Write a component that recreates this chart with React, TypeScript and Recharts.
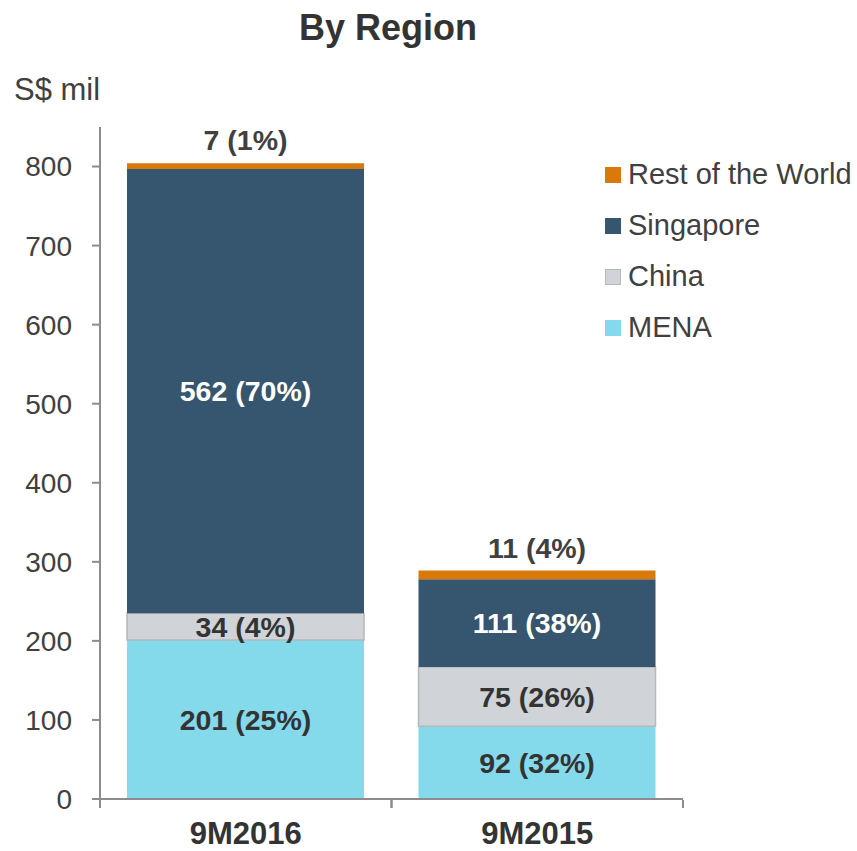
import React from "react";
import { BarChart, Bar, XAxis, YAxis, LabelList } from "recharts";

const categories = ["9M2016", "9M2015"];
const mena = [201, 92];
const china = [34, 75];
const singapore = [562, 111];
const restOfWorld = [7, 11];
const menaPct = ["25%", "32%"];
const chinaPct = ["4%", "26%"];
const singaporePct = ["70%", "38%"];
const restPct = ["1%", "4%"];
const yTicks = [0, 100, 200, 300, 400, 500, 600, 700, 800];

const data = categories.map((c, i) => ({
  name: c,
  MENA: mena[i],
  China: china[i],
  Singapore: singapore[i],
  "Rest of the World": restOfWorld[i],
}));

const FONT = "'Liberation Sans', Arial, sans-serif";
const AXIS = "#8c8c8c";
const TEXT = "#404040";

const COLORS = {
  MENA: "#84DAEA",
  China: "#D0D3D8",
  Singapore: "#36556E",
  RoW: "#D9790A",
};

const makeInsideLabel = (pcts: string[], fill: string) => (props: any) => {
  const { x, y, width, height, value, index } = props;
  return (
    <text
      x={Number(x) + Number(width) / 2}
      y={Number(y) + Number(height) / 2}
      textAnchor="middle"
      dominantBaseline="central"
      fill={fill}
      fontFamily={FONT}
      fontWeight="bold"
      fontSize={28.5}
    >
      {`${value} (${pcts[index]})`}
    </text>
  );
};

const makeTopLabel = (pcts: string[]) => (props: any) => {
  const { x, y, width, value, index } = props;
  return (
    <text
      x={Number(x) + Number(width) / 2}
      y={Number(y) - 13}
      textAnchor="middle"
      fill={TEXT}
      fontFamily={FONT}
      fontWeight="bold"
      fontSize={28.5}
    >
      {`${value} (${pcts[index]})`}
    </text>
  );
};

const CategoryTick = (props: any) => {
  const { x, payload } = props;
  const half = 291.5 / 2;
  const base = 800;
  return (
    <g>
      <line x1={x - half} x2={x - half} y1={base} y2={base + 8} stroke={AXIS} strokeWidth={2} />
      <line x1={x + half} x2={x + half} y1={base} y2={base + 8} stroke={AXIS} strokeWidth={2} />
      <text
        x={x}
        y={844}
        textAnchor="middle"
        fill="#333333"
        fontFamily={FONT}
        fontWeight="bold"
        fontSize={31}
      >
        {payload.value}
      </text>
    </g>
  );
};

const legendItems = [
  { label: "Rest of the World", color: COLORS.RoW, border: COLORS.RoW },
  { label: "Singapore", color: COLORS.Singapore, border: COLORS.Singapore },
  { label: "China", color: COLORS.China, border: "#b5b8bc" },
  { label: "MENA", color: COLORS.MENA, border: COLORS.MENA },
];

const LegendBox = () => (
  <div style={{ position: "absolute", left: 605, top: 149, width: 252, fontFamily: FONT }}>
    {legendItems.map((it) => (
      <div key={it.label} style={{ display: "flex", alignItems: "center", height: 51 }}>
        <div
          style={{
            width: 16,
            height: 16,
            boxSizing: "border-box",
            background: it.color,
            border: `1.5px solid ${it.border}`,
            marginRight: 7,
          }}
        />
        <span style={{ fontSize: 29, color: TEXT, lineHeight: "29px", whiteSpace: "nowrap" }}>{it.label}</span>
      </div>
    ))}
  </div>
);

export default function App() {
  return (
    <div style={{ position: "absolute", left: 0, top: 0, width: 857, height: 851, background: "#fff" }}>
      <BarChart
        width={857}
        height={851}
        data={data}
        margin={{ top: 127, right: 174, bottom: 0, left: 0 }}
        barSize={237}
      >
        <XAxis
          dataKey="name"
          height={52}
          axisLine={{ stroke: AXIS, strokeWidth: 2 }}
          tickLine={false}
          tickSize={0}
          tickMargin={0}
          tick={<CategoryTick />}
          interval={0}
        />
        <YAxis
          width={100}
          domain={[0, 850]}
          ticks={yTicks}
          allowDataOverflow
          axisLine={{ stroke: AXIS, strokeWidth: 2 }}
          tickLine={{ stroke: AXIS, strokeWidth: 2 }}
          tickSize={8}
          tickMargin={20}
          tick={{ fill: TEXT, fontFamily: FONT, fontSize: 28 }}
        />
        <Bar dataKey="MENA" stackId="a" fill={COLORS.MENA} isAnimationActive={false}>
          <LabelList dataKey="MENA" content={makeInsideLabel(menaPct, "#333333")} />
        </Bar>
        <Bar dataKey="China" stackId="a" fill={COLORS.China} stroke="#b5b8bc" strokeWidth={1.5} isAnimationActive={false}>
          <LabelList dataKey="China" content={makeInsideLabel(chinaPct, "#333333")} />
        </Bar>
        <Bar dataKey="Singapore" stackId="a" fill={COLORS.Singapore} isAnimationActive={false}>
          <LabelList dataKey="Singapore" content={makeInsideLabel(singaporePct, "#ffffff")} />
        </Bar>
        <Bar dataKey="Rest of the World" stackId="a" fill={COLORS.RoW} isAnimationActive={false}>
          <LabelList dataKey="Rest of the World" content={makeTopLabel(restPct)} />
        </Bar>
      </BarChart>
      <div
        style={{
          position: "absolute",
          left: 188,
          width: 400,
          top: 10,
          textAlign: "center",
          fontFamily: FONT,
          fontWeight: "bold",
          fontSize: 36,
          lineHeight: "36px",
          color: "#333333",
        }}
      >
        By Region
      </div>
      <div
        style={{
          position: "absolute",
          left: 14,
          top: 74,
          fontFamily: FONT,
          fontSize: 31,
          lineHeight: "31px",
          color: TEXT,
        }}
      >
        S$ mil
      </div>
      <LegendBox />
    </div>
  );
}
